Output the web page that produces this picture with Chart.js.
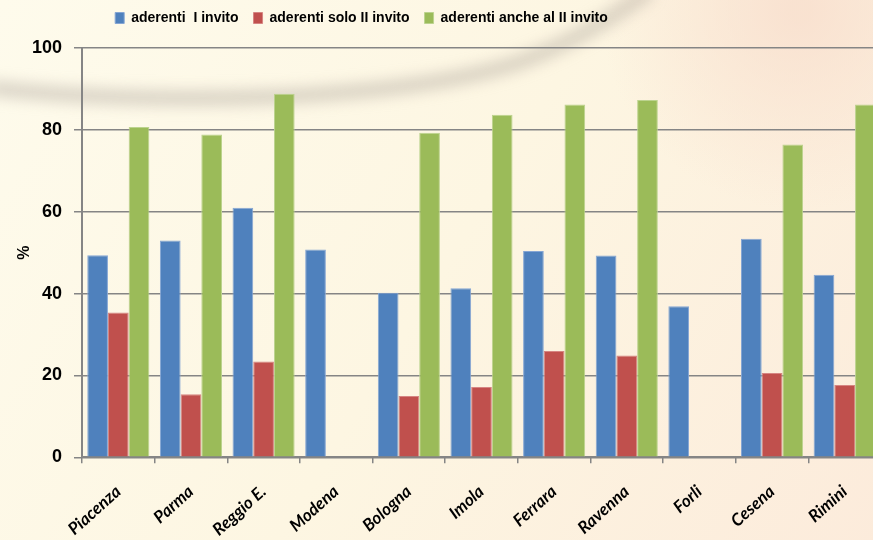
<!DOCTYPE html>
<html>
<head>
<meta charset="utf-8">
<script src="https://cdn.jsdelivr.net/npm/chart.js@4.4.1/dist/chart.umd.min.js"></script>
<style>
html, body { margin: 0; padding: 0; overflow: hidden; background: #fdf7e4; }
#wrap { position: relative; width: 884px; height: 540px; }
</style>
</head>
<body>
<div id="wrap"><canvas id="chart"></canvas></div>
<script>
const cities = ["Piacenza", "Parma", "Reggio E.", "Modena", "Bologna", "Imola", "Ferrara", "Ravenna", "Forli", "Cesena", "Rimini"];
const firstInvite = [49.4, 53.0, 61.0, 50.8, 40.2, 41.3, 50.4, 49.3, 36.9, 53.4, 44.6];
const onlySecond = [35.4, 15.4, 23.4, null, 15.0, 17.2, 26.0, 24.9, null, 20.6, 17.7];
const alsoSecond = [80.7, 78.9, 88.8, null, 79.3, 83.7, 86.2, 87.3, null, 76.4, 86.2];
const seriesNames = ["aderenti  I invito", "aderenti solo II invito", "aderenti anche al II invito"];

const gridGray = "#858585";

// cream background with the soft swoosh
const backdrop = {
    id: "backdrop",
    beforeDraw(chart) {
        const ctx = chart.ctx;
        const w = chart.width, h = chart.height;
        ctx.save();
        const g = ctx.createLinearGradient(0, 0, w, h);
        g.addColorStop(0, "#fefbec");
        g.addColorStop(0.5, "#fdf6e2");
        g.addColorStop(1, "#fcebdb");
        ctx.fillStyle = g;
        ctx.fillRect(0, 0, w, h);

        const p = ctx.createRadialGradient(800, 10, 10, 800, 10, 200);
        p.addColorStop(0, "rgba(248,222,205,0.8)");
        p.addColorStop(1, "rgba(248,222,205,0)");
        ctx.fillStyle = p;
        ctx.fillRect(0, 0, w, h);

        ctx.filter = "blur(7px)";
        ctx.strokeStyle = "rgba(170,160,150,0.4)";
        ctx.lineWidth = 16;
        ctx.beginPath();
        ctx.moveTo(-10, 88);
        ctx.bezierCurveTo(150, 106, 400, 102, 520, 62);
        ctx.bezierCurveTo(570, 44, 610, 20, 650, -10);
        ctx.stroke();
        ctx.restore();
    }
};

// move the legend to where it sits in the original
const legendShift = {
    id: "legendShift",
    afterLayout(chart) {
        const l = chart.legend;
        l.left -= 79;
        l.right -= 79;
        l.top -= 13;
        l.bottom -= 13;
    }
};

new Chart(document.getElementById("chart"), {
    type: "bar",
    data: {
        labels: cities,
        datasets: [
            { label: seriesNames[0], data: firstInvite, backgroundColor: "#4f81bd", borderColor: "#86a6d4", borderWidth: 1 },
            { label: seriesNames[1], data: onlySecond, backgroundColor: "#c0504d", borderColor: "#d68582", borderWidth: 1 },
            { label: seriesNames[2], data: alsoSecond, backgroundColor: "#9bbb59", borderColor: "#bcd38e", borderWidth: 1 }
        ]
    },
    options: {
        responsive: true,
        maintainAspectRatio: false,
        animation: false,
        layout: { padding: { top: 9, right: 3, bottom: -18, left: 0 } },
        datasets: { bar: { categoryPercentage: 0.855, barPercentage: 1.0 } },
        plugins: {
            legend: {
                position: "top",
                labels: {
                    boxWidth: 9,
                    boxHeight: 11,
                    padding: 15,
                    color: "#000",
                    font: { family: "'Liberation Sans'", size: 14, weight: "bold" }
                }
            },
            tooltip: { enabled: false }
        },
        scales: {
            x: {
                grid: { drawOnChartArea: false, drawTicks: true, tickLength: 6, color: gridGray, lineWidth: 1.5 },
                border: { display: true, color: gridGray, width: 2 },
                ticks: {
                    color: "#000",
                    minRotation: 42,
                    maxRotation: 42,
                    padding: 18,
                    font: { family: "Lato", size: 17, weight: "bold", style: "italic" }
                }
            },
            y: {
                min: 0,
                max: 100,
                afterFit(scale) { scale.width = 82; },
                grid: { color: gridGray, lineWidth: 1.5, tickLength: 8 },
                border: { display: true, color: gridGray, width: 2 },
                ticks: {
                    stepSize: 20,
                    color: "#000",
                    padding: 12,
                    font: { family: "'Liberation Sans'", size: 18, weight: "bold" }
                },
                title: {
                    display: true,
                    text: "%",
                    color: "#000",
                    padding: { top: 15, bottom: 0 },
                    font: { family: "'Liberation Sans'", size: 16, weight: "bold" }
                }
            }
        }
    },
    plugins: [backdrop, legendShift]
});
</script>
</body>
</html>
